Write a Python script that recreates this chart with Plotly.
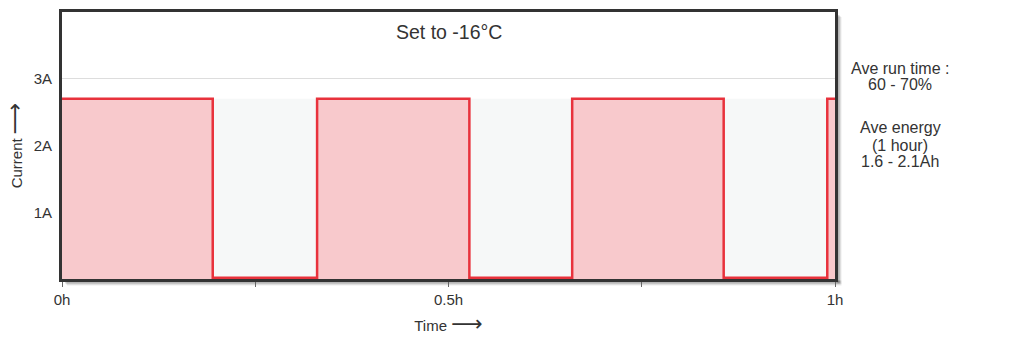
import plotly.graph_objects as go

# Data
times = [0.0, 0.195, 0.33, 0.527, 0.66, 0.856, 0.99, 1.0]
current = [2.7, 0.02, 2.7, 0.02, 2.7, 0.02, 2.7, 2.7]
band_x = [0.0, 1.0]
band_y = [2.7, 2.7]
x_tickvals = [0, 0.25, 0.5, 0.75, 1.0]
x_ticktext = ["0h", "", "0.5h", "", "1h"]
y_tickvals = [1, 2, 3]
y_ticktext = ["1A", "2A", "3A"]
side_lines = [("Ave run time :", 68), ("60 - 70%", 84),
              ("Ave energy", 128), ("(1 hour)", 145), ("1.6 - 2.1Ah", 161)]

FONT = "Liberation Sans, Arial, sans-serif"
TXT = "#333333"
ARROW = "<span style='font-family:DejaVu Sans;font-size:22px'>\u27f6</span>"

fig = go.Figure()
fig.add_trace(go.Scatter(x=band_x, y=band_y, mode="lines", line=dict(width=0, color="#f6f8f8"),
                         fill="tozeroy", fillcolor="#f6f8f8", hoverinfo="skip", showlegend=False))
fig.add_trace(go.Scatter(x=times, y=current, mode="lines", line=dict(color="#e8323c", width=2.5, shape="hv"),
                         fill="tozeroy", fillcolor="#f8c9cc", showlegend=False))

L, R, T, B = 62, 189, 12, 61
W, H = 1024, 340
pw, ph = W - L - R, H - T - B
shapes = []
for i, op in enumerate([0.08, 0.10, 0.14]):
    d = 5 - i
    dx, dy = d / pw, d / ph
    shapes.append(dict(type="rect", xref="paper", yref="paper",
                       x0=1 + 1.5 / pw, x1=1 + dx + 1.5 / pw, y0=-dy, y1=1 - dy,
                       line=dict(width=0), fillcolor=f"rgba(0,0,0,{op})", layer="below"))
    shapes.append(dict(type="rect", xref="paper", yref="paper",
                       x0=dx, x1=1 + dx + 1.5 / pw, y0=-dy - 1.5 / ph, y1=-1.5 / ph,
                       line=dict(width=0), fillcolor=f"rgba(0,0,0,{op})", layer="below"))

fig.update_layout(
    width=W, height=H,
    margin=dict(l=L, r=R, t=T, b=B),
    paper_bgcolor="white", plot_bgcolor="white",
    font=dict(family=FONT, size=15, color=TXT),
    shapes=shapes,
    showlegend=False,
)
fig.update_xaxes(range=[0, 1], tickvals=x_tickvals, ticktext=x_ticktext, ticks="outside",
                 ticklen=5, tickcolor="#666", tickwidth=1, showgrid=False, zeroline=False,
                 showline=True, linecolor="#333", linewidth=3, mirror=True, automargin=False,
                 title=dict(text="Time " + ARROW, font=dict(size=15, color=TXT), standoff=14))
fig.update_yaxes(range=[0, 4], tickvals=y_tickvals, ticktext=y_ticktext, ticks="",
                 showgrid=True, gridcolor="#dddddd", gridwidth=1, zeroline=False,
                 showline=True, linecolor="#333", linewidth=3, mirror=True, automargin=False,
                 ticklabelstandoff=4,
                 title=dict(text="Current " + ARROW, font=dict(size=15, color=TXT), standoff=8))

fig.add_annotation(text="Set to -16°C", xref="paper", yref="paper", x=0.5, y=1 - 20 / ph,
                   yanchor="middle", showarrow=False, font=dict(size=19.5, color=TXT))
for txt, ypx in side_lines:
    fig.add_annotation(text=txt, xref="paper", yref="paper",
                       x=(900 - L) / pw, y=1 - (ypx - T) / ph, xanchor="center", yanchor="middle",
                       showarrow=False, font=dict(size=16, color=TXT))

fig.write_html("out.html")
